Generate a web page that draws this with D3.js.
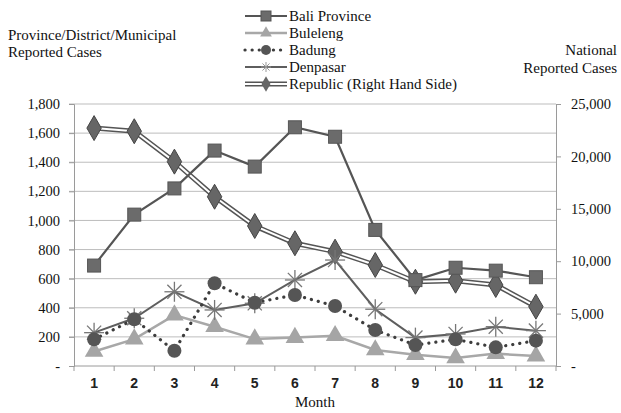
<!DOCTYPE html>
<html><head><meta charset="utf-8">
<script src="https://cdn.jsdelivr.net/npm/d3@7"></script>
<style>body{margin:0;background:#fff}svg{display:block}</style>
</head><body><svg id="c" width="621" height="413"></svg>
<script>
const months = ["1","2","3","4","5","6","7","8","9","10","11","12"];
const bali = [690,1040,1220,1480,1370,1640,1575,935,590,675,655,610];
const buleleng = [100,185,350,270,185,195,208,110,78,55,85,68];
const badung = [183,321,105,568,435,488,412,247,144,183,128,174];
const denpasar = [229,328,510,385,431,591,728,390,195,220,270,243];
const republic = [22700,22400,19500,16150,13360,11710,10910,9640,8040,8140,7730,5660];
const leftTicks = [0,200,400,600,800,1000,1200,1400,1600,1800];
const rightTicks = [0,5000,10000,15000,20000,25000];
const legendLabels = ["Bali Province","Buleleng","Badung","Denpasar","Republic (Right Hand Side)"];

const svg = d3.select("#c");
const L = 74, R = 556, T = 104, B = 366;
const x = d3.scaleBand().domain(months).range([L, R]);
const yL = d3.scaleLinear().domain([0,1800]).range([B, T]);
const yR = d3.scaleLinear().domain([0,25000]).range([B, T]);
const cx = d => x(d) + x.bandwidth()/2;
const serif = "'Liberation Serif', 'Times New Roman', serif";
const sans = "'Liberation Sans', Arial, sans-serif";

// gridlines
svg.append("g").selectAll("line").data(leftTicks.slice(1)).join("line")
  .attr("x1", L-5).attr("x2", R).attr("y1", d=>yL(d)).attr("y2", d=>yL(d))
  .attr("stroke", "#bdbdbd").attr("stroke-width", 1);

// left axis
const gL = svg.append("g").attr("transform", `translate(${L},0)`)
  .call(d3.axisLeft(yL).tickValues(leftTicks).tickSize(5).tickPadding(9)
    .tickFormat(d => d===0 ? "-" : d3.format(",")(d)));
gL.select(".domain").attr("stroke", "#9a9a9a");
gL.selectAll(".tick line").attr("stroke", "#9a9a9a");
gL.selectAll("text").attr("font-family", serif).attr("font-size", 14.5).attr("fill", "#111");

// right axis
const gR = svg.append("g").attr("transform", `translate(${R},0)`)
  .call(d3.axisRight(yR).tickValues(rightTicks).tickSize(5).tickPadding(10)
    .tickFormat(d => d===0 ? "-" : d3.format(",")(d)));
gR.select(".domain").attr("stroke", "#9a9a9a");
gR.selectAll(".tick line").attr("stroke", "#9a9a9a");
gR.selectAll("text").attr("font-family", serif).attr("font-size", 14.5).attr("fill", "#111");

// bottom axis
svg.append("line").attr("x1", L).attr("x2", R).attr("y1", B).attr("y2", B).attr("stroke", "#9a9a9a");
svg.append("g").selectAll("line").data(months.concat(["end"])).join("line")
  .attr("x1", (d,i)=> L + i*x.bandwidth()).attr("x2", (d,i)=> L + i*x.bandwidth())
  .attr("y1", B).attr("y2", B+5).attr("stroke", "#9a9a9a");
svg.append("g").selectAll("text").data(months).join("text")
  .attr("x", d=>cx(d)).attr("y", B+22).attr("text-anchor","middle")
  .attr("font-family", sans).attr("font-weight","bold").attr("font-size", 14).attr("fill","#222").text(d=>d);

// titles
const ttl = (t, xx, yy, anchor) => svg.append("text").attr("x", xx).attr("y", yy)
  .attr("text-anchor", anchor).attr("font-family", serif).attr("font-size", 15).attr("fill","#111").text(t);
ttl("Province/District/Municipal", 8, 40, "start");
ttl("Reported Cases", 8, 57, "start");
ttl("National", 617, 55, "end");
ttl("Reported Cases", 617, 73, "end");
ttl("Month", 315, 407, "middle");

const lineL = d3.line().x((d,i)=>cx(months[i])).y(d=>yL(d));
const lineR = d3.line().x((d,i)=>cx(months[i])).y(d=>yR(d));

// marker drawers
const sq = (g, px, py, fill) => g.append("rect").attr("x", px-6.5).attr("y", py-6.5).attr("width",13).attr("height",13)
  .attr("fill", fill).attr("stroke","#555").attr("stroke-width",1);
const tri = (g, px, py, fill) => g.append("path").attr("d", d3.symbol(d3.symbolTriangle, 150)()).attr("transform",`translate(${px},${py})`).attr("fill", fill);
const circ = (g, px, py, fill) => g.append("circle").attr("cx",px).attr("cy",py).attr("r",7).attr("fill",fill);
const star = (g, px, py, col) => { const r=10; for (let k=0;k<4;k++){ const a=k*Math.PI/4; g.append("line").attr("x1",px-r*Math.cos(a)).attr("y1",py-r*Math.sin(a)).attr("x2",px+r*Math.cos(a)).attr("y2",py+r*Math.sin(a)).attr("stroke",col).attr("stroke-width",1.3);} };
const dia = (g, px, py, fill) => g.append("path").attr("d", d3.symbol(d3.symbolDiamond, 180)()).attr("transform",`translate(${px},${py})`).attr("fill", fill).attr("stroke","#444");

// Republic (double line)
const gRep = svg.append("g");
gRep.append("path").datum(republic).attr("d", lineR).attr("fill","none").attr("stroke","#555").attr("stroke-width",5);
gRep.append("path").datum(republic).attr("d", lineR).attr("fill","none").attr("stroke","#fff").attr("stroke-width",2);
republic.forEach((v,i)=> dia(gRep, cx(months[i]), yR(v), "#666"));

// Bali
const gB = svg.append("g");
gB.append("path").datum(bali).attr("d", lineL).attr("fill","none").attr("stroke","#555").attr("stroke-width",2.2);
bali.forEach((v,i)=> sq(gB, cx(months[i]), yL(v), "#6b6b6b"));

// Buleleng
const gBu = svg.append("g");
gBu.append("path").datum(buleleng).attr("d", lineL).attr("fill","none").attr("stroke","#a8a8a8").attr("stroke-width",2.5);
buleleng.forEach((v,i)=> tri(gBu, cx(months[i]), yL(v), "#a5a5a5"));

// Denpasar
const gD = svg.append("g");
gD.append("path").datum(denpasar).attr("d", lineL).attr("fill","none").attr("stroke","#5e5e5e").attr("stroke-width",2);
denpasar.forEach((v,i)=> star(gD, cx(months[i]), yL(v), "#777"));

// Badung
const gBa = svg.append("g");
gBa.append("path").datum(badung).attr("d", lineL).attr("fill","none").attr("stroke","#3d3d3d").attr("stroke-width",3.2)
  .attr("stroke-dasharray","0.1 7").attr("stroke-linecap","round");
badung.forEach((v,i)=> circ(gBa, cx(months[i]), yL(v), "#555"));

// legend
const lg = svg.append("g");
const ly = [16, 33, 50, 67, 84];
const lx1 = 245, lx2 = 287;
legendLabels.forEach((t,i)=> {
  lg.append("text").attr("x", 289).attr("y", ly[i]+5).attr("font-family", serif).attr("font-size", 15).attr("fill","#111").text(t);
});
const mid = (lx1+lx2)/2;
lg.append("line").attr("x1",lx1).attr("x2",lx2).attr("y1",ly[0]).attr("y2",ly[0]).attr("stroke","#555").attr("stroke-width",2.2);
sq(lg, mid, ly[0], "#6b6b6b").attr("width",10).attr("height",10).attr("x",mid-5).attr("y",ly[0]-5);
lg.append("line").attr("x1",lx1).attr("x2",lx2).attr("y1",ly[1]).attr("y2",ly[1]).attr("stroke","#a8a8a8").attr("stroke-width",2.5);
lg.append("path").attr("d", d3.symbol(d3.symbolTriangle, 60)()).attr("transform",`translate(${mid},${ly[1]})`).attr("fill","#a5a5a5");
lg.append("line").attr("x1",lx1).attr("x2",lx2).attr("y1",ly[2]).attr("y2",ly[2]).attr("stroke","#3d3d3d").attr("stroke-width",3.2).attr("stroke-dasharray","0.1 7").attr("stroke-linecap","round");
lg.append("circle").attr("cx",mid).attr("cy",ly[2]).attr("r",5).attr("fill","#555");
lg.append("line").attr("x1",lx1).attr("x2",lx2).attr("y1",ly[3]).attr("y2",ly[3]).attr("stroke","#5e5e5e").attr("stroke-width",2);
for (let k=0;k<4;k++){ const a=k*Math.PI/4, r=5; lg.append("line").attr("x1",mid-r*Math.cos(a)).attr("y1",ly[3]-r*Math.sin(a)).attr("x2",mid+r*Math.cos(a)).attr("y2",ly[3]+r*Math.sin(a)).attr("stroke","#999").attr("stroke-width",1); }
lg.append("line").attr("x1",lx1).attr("x2",lx2).attr("y1",ly[4]).attr("y2",ly[4]).attr("stroke","#555").attr("stroke-width",5);
lg.append("line").attr("x1",lx1).attr("x2",lx2).attr("y1",ly[4]).attr("y2",ly[4]).attr("stroke","#fff").attr("stroke-width",2);
lg.append("path").attr("d", d3.symbol(d3.symbolDiamond, 70)()).attr("transform",`translate(${mid},${ly[4]})`).attr("fill","#666");
</script></body></html>
